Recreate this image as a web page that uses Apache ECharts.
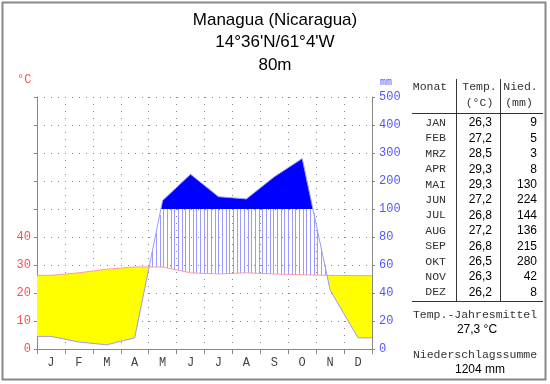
<!DOCTYPE html>
<html><head><meta charset="utf-8">
<script src="https://cdn.jsdelivr.net/npm/echarts@6/dist/echarts.min.js"></script>
<style>html,body{margin:0;padding:0;background:#fff}#c{width:550px;height:384px}</style>
</head><body><div id="c"></div>
<script>
// ---- data ----
const titleLines = ['Managua (Nicaragua)', "14°36'N/61°4'W", '80m'];
const monthLetters = ['J','F','M','A','M','J','J','A','S','O','N','D'];
const monthNames = ['JAN','FEB','MRZ','APR','MAI','JUN','JUL','AUG','SEP','OKT','NOV','DEZ'];
const tempC = [26.3,27.2,28.5,29.3,29.3,27.2,26.8,27.2,26.8,26.5,26.3,26.2];
const tempText = ['26,3','27,2','28,5','29,3','29,3','27,2','26,8','27,2','26,8','26,5','26,3','26,2'];
const precipMm = [9,5,3,8,130,224,144,136,215,280,42,8];
const tempTicks = [0,10,20,30,40];
const precipTicks = [0,20,40,60,80,100,200,300,400,500];
const annualMeanTemp = '27,3 °C';
const annualPrecip = '1204 mm';

// ---- scale helpers (Walter-Lieth: 10 °C = 20 mm, above 100 mm compressed 1:10) ----
function mmToUnit(p){ return p <= 100 ? p/2 : 50 + (p-100)/10; }
function unitToMm(v){ return v <= 50 ? v*2 : 100 + (v-50)*10; }

const xs = [0].concat(monthLetters.map((m,i)=>i+0.5)).concat([12]);
const Tv = [tempC[0]].concat(tempC).concat([tempC[11]]);
const Pv = [precipMm[0]].concat(precipMm).concat([precipMm[11]]).map(mmToUnit);
const humidCap = mmToUnit(100);
const capLine = xs.map(()=>humidCap);

function interp(x, ys){
  for(let i=1;i<xs.length;i++){
    if(x<=xs[i]){ const t=(x-xs[i-1])/(xs[i]-xs[i-1]); return ys[i-1]+t*(ys[i]-ys[i-1]); }
  }
  return ys[ys.length-1];
}
function bands(up, lo){
  const polys=[]; let top=[], bot=[];
  for(let i=0;i<xs.length;i++){
    const d=up[i]-lo[i];
    if(i>0){
      const dp=up[i-1]-lo[i-1];
      if((dp>0)!==(d>0) && dp!==d){
        const t=dp/(dp-d);
        const x=xs[i-1]+t*(xs[i]-xs[i-1]);
        const y=lo[i-1]+t*(lo[i]-lo[i-1]);
        top.push([x,y]); bot.push([x,y]);
        if(dp>0){ polys.push(top.concat(bot.slice().reverse())); top=[]; bot=[]; }
      }
    }
    if(d>0){ top.push([xs[i],up[i]]); bot.push([xs[i],lo[i]]); }
  }
  if(top.length) polys.push(top.concat(bot.slice().reverse()));
  return polys;
}

const MONO = '"Liberation Mono","DejaVu Sans Mono",monospace';
const SANS = '"Liberation Sans",Arial,sans-serif';
const hatchStep = 0.1314;

const chart = echarts.init(document.getElementById('c'), null, {renderer:'canvas'});

const graphics = [];
graphics.push({type:'rect', shape:{x:2.5,y:2.5,width:543,height:377}, style:{fill:'none',stroke:'#888',lineWidth:2}, z:100});
titleLines.forEach((t,i)=>graphics.push({type:'text', style:{text:t,x:275,y:20+i*22.5,align:'center',verticalAlign:'middle',font:'17px '+SANS,fill:'#000'}}));
graphics.push({type:'text', style:{text:'°C',x:17,y:80,align:'left',verticalAlign:'middle',font:'12px '+MONO,fill:'#ff5050'}});
graphics.push({type:'text', style:{text:'mm',x:380,y:82,align:'left',verticalAlign:'middle',font:'10px '+MONO,fill:'#5555ff'}});
// table
const lc = '#333';
graphics.push({type:'line', shape:{x1:412,y1:113.5,x2:543,y2:113.5}, style:{stroke:lc,lineWidth:1}});
graphics.push({type:'line', shape:{x1:412,y1:301.5,x2:543,y2:301.5}, style:{stroke:lc,lineWidth:1}});
graphics.push({type:'line', shape:{x1:456.5,y1:79,x2:456.5,y2:301.5}, style:{stroke:lc,lineWidth:1}});
graphics.push({type:'line', shape:{x1:500.5,y1:79,x2:500.5,y2:301.5}, style:{stroke:lc,lineWidth:1}});
const monoFont = '11.5px '+MONO, sansFont = '12px '+SANS, gcol='#333';
graphics.push({type:'text', style:{text:'Monat',x:430,y:87,align:'center',verticalAlign:'middle',font:monoFont,fill:gcol}});
graphics.push({type:'text', style:{text:'Temp.',x:479.5,y:87,align:'center',verticalAlign:'middle',font:monoFont,fill:gcol}});
graphics.push({type:'text', style:{text:'(°C)',x:479.5,y:103,align:'center',verticalAlign:'middle',font:monoFont,fill:gcol}});
graphics.push({type:'text', style:{text:'Nied.',x:520.5,y:87,align:'center',verticalAlign:'middle',font:monoFont,fill:gcol}});
graphics.push({type:'text', style:{text:'(mm)',x:519,y:103,align:'center',verticalAlign:'middle',font:monoFont,fill:gcol}});
monthNames.forEach((m,i)=>{
  const y = 123 + i*15.4;
  graphics.push({type:'text', style:{text:m,x:446,y:y,align:'right',verticalAlign:'middle',font:monoFont,fill:gcol}});
  graphics.push({type:'text', style:{text:tempText[i],x:492,y:y,align:'right',verticalAlign:'middle',font:sansFont,fill:'#000'}});
  graphics.push({type:'text', style:{text:String(precipMm[i]),x:537,y:y,align:'right',verticalAlign:'middle',font:sansFont,fill:'#000'}});
});
graphics.push({type:'text', style:{text:'Temp.-Jahresmittel',x:475,y:315,align:'center',verticalAlign:'middle',font:monoFont,fill:gcol}});
graphics.push({type:'text', style:{text:annualMeanTemp,x:477,y:330,align:'center',verticalAlign:'middle',font:sansFont,fill:'#000'}});
graphics.push({type:'text', style:{text:'Niederschlagssumme',x:475,y:355,align:'center',verticalAlign:'middle',font:monoFont,fill:gcol}});
graphics.push({type:'text', style:{text:annualPrecip,x:480,y:370,align:'center',verticalAlign:'middle',font:sansFont,fill:'#000'}});

const dotted = {color:'#888', type:[1,6], width:1};

const option = {
  animation:false,
  backgroundColor:'#fff',
  grid:{left:37,right:178,top:97,bottom:35,containLabel:false,outerBoundsMode:'none'},
  xAxis:[
    {type:'category', data:monthLetters, boundaryGap:true,
     axisLine:{show:true,lineStyle:{color:'#888'}},
     axisTick:{show:true,length:5,lineStyle:{color:'#888'}},
     axisLabel:{color:'#444',fontFamily:MONO,fontSize:12,margin:8},
     splitLine:{show:true,lineStyle:dotted}},
    {type:'value', min:0, max:12, show:false}
  ],
  yAxis:[
    {type:'value', min:0, max:90, interval:10, position:'left',
     axisLine:{show:true,lineStyle:{color:'#888'}},
     axisTick:{show:true,length:3,lineStyle:{color:'#888'}},
     axisLabel:{color:'#ff5050',fontFamily:MONO,fontSize:12,margin:6,
       formatter:v=>tempTicks.includes(v)?String(v):''},
     splitLine:{show:true,lineStyle:dotted}},
    {type:'value', min:0, max:90, interval:10, position:'right',
     axisLine:{show:true,lineStyle:{color:'#888'}},
     axisTick:{show:true,length:3,lineStyle:{color:'#888'}},
     axisLabel:{color:'#5555ff',fontFamily:MONO,fontSize:12,margin:7,
       formatter:v=>{const mm=Math.round(unitToMm(v)); return precipTicks.includes(mm)?String(mm):'';}},
     splitLine:{show:false}}
  ],
  series:[
    {type:'custom', xAxisIndex:1, yAxisIndex:0, z:2, silent:true,
     data:[[0,0]],
     renderItem:function(params, api){
       const children=[];
       const toPx = pts=>pts.map(p=>api.coord(p));
       bands(Tv, Pv).forEach(poly=>children.push({type:'polygon',shape:{points:toPx(poly)},style:{fill:'#ffff00'}}));
       for(let k=0; (k+0.45)*hatchStep<12; k++){
         const x=(k+0.45)*hatchStep;
         const t=interp(x,Tv), p=interp(x,Pv);
         if(p>t){
           const top=Math.min(p,humidCap);
           const a=api.coord([x,t]), b=api.coord([x,top]);
           const px=Math.round(a[0])+0.5;
           children.push({type:'line',shape:{x1:px,y1:a[1],x2:px,y2:b[1]},style:{stroke:'#9a9aff',lineWidth:1}});
         }
       }
       bands(Pv, capLine).forEach(poly=>children.push({type:'polygon',shape:{points:toPx(poly)},style:{fill:'#0000ff'}}));
       return {type:'group',children};
     }},
    {type:'line', xAxisIndex:1, yAxisIndex:0, z:3, symbol:'none', silent:true,
     data:xs.map((x,i)=>[x,Tv[i]]), lineStyle:{color:'#ff9a9a',width:1}},
    {type:'line', xAxisIndex:1, yAxisIndex:0, z:3, symbol:'none', silent:true,
     data:xs.map((x,i)=>[x,Pv[i]]), lineStyle:{color:'#9a9aff',width:1}}
  ],
  graphic:graphics
};
chart.setOption(option);
</script>
</body></html>
